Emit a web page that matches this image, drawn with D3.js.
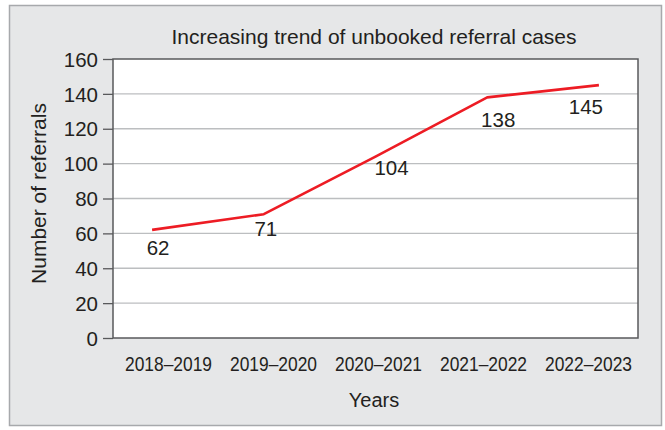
<!DOCTYPE html>
<html lang="en">
<head>
  <meta charset="UTF-8" />
  <title>Unbooked referral cases</title>
  <script src="https://d3js.org/d3.v7.min.js"></script>
  <style>
    body { margin: 0; background: #fff; font-family: 'Liberation Sans', Arial, sans-serif; }
    text { fill: #231f20; }
  </style>
</head>
<body>
  <svg></svg>

  <script>
    // chart data
    const years = ["2018\u20132019", "2019\u20132020", "2020\u20132021", "2021\u20132022", "2022\u20132023"];
    const referrals = [62, 71, 104, 138, 145];
    const yTicks = [0, 20, 40, 60, 80, 100, 120, 140, 160];

    // small nudges for the value labels (dx, dy from the point)
    const labelNudge = [[6, 25], [2, 22], [16, 18], [11, 30], [-13, 29]];

    const W = 665, H = 430;
    const plot = { left: 113, top: 59, right: 638, bottom: 338 };

    const svg = d3.select("svg").attr("width", W).attr("height", H);

    // outer panel
    svg.append("rect")
      .attr("x", 9.5).attr("y", 5.5)
      .attr("width", 652).attr("height", 420)
      .attr("fill", "#e6e7e8")
      .attr("stroke", "#a7a9ac")
      .attr("stroke-width", 1.5);

    const y = d3.scaleLinear().domain([0, 160]).range([plot.bottom, plot.top]);
    const xBand = d3.scaleBand().domain(years).range([plot.left + 3, plot.right + 3]);
    const xPt = d3.scalePoint().domain(years).range([plot.left, plot.right]).padding(0.35);

    svg.append("rect")
      .attr("x", plot.left).attr("y", plot.top)
      .attr("width", plot.right - plot.left).attr("height", plot.bottom - plot.top)
      .attr("fill", "#fff");

    // gridlines
    svg.append("g")
      .selectAll("line")
      .data(yTicks.filter(d => d > 0 && d < 160))
      .join("line")
      .attr("x1", plot.left).attr("x2", plot.right)
      .attr("y1", d => y(d)).attr("y2", d => y(d))
      .attr("stroke", "#bcbec0")
      .attr("stroke-width", 1.3);

    // y axis
    const yAxis = svg.append("g")
      .attr("transform", `translate(${plot.left},0)`)
      .call(d3.axisLeft(y).tickValues(yTicks).tickSize(10).tickPadding(5));
    yAxis.select(".domain").remove();
    yAxis.selectAll(".tick line").attr("stroke", "#58595b").attr("stroke-width", 1.3);
    yAxis.selectAll("text")
      .attr("font-family", "'Liberation Sans', Arial, sans-serif")
      .attr("font-size", 20.5)
      .attr("dy", "0.35em")
      .attr("fill", "#231f20");

    // x axis labels (no ticks), slightly condensed like the original
    const xAxis = svg.append("g")
      .attr("transform", `translate(0,${plot.bottom})`)
      .call(d3.axisBottom(xBand).tickSize(0).tickPadding(19));
    xAxis.select(".domain").remove();
    xAxis.selectAll("text")
      .attr("font-family", "'Liberation Sans', Arial, sans-serif")
      .attr("font-size", 20)
      .attr("transform", "scale(0.87,1)")
      .attr("fill", "#231f20");

    // plot frame
    svg.append("rect")
      .attr("x", plot.left).attr("y", plot.top)
      .attr("width", plot.right - plot.left).attr("height", plot.bottom - plot.top)
      .attr("fill", "none")
      .attr("stroke", "#58595b")
      .attr("stroke-width", 1.5);

    // the line
    const line = d3.line()
      .x((d, i) => xPt(years[i]))
      .y(d => y(d));

    svg.append("path")
      .datum(referrals)
      .attr("d", line)
      .attr("fill", "none")
      .attr("stroke", "#ed1c24")
      .attr("stroke-width", 2.6)
      .attr("stroke-linejoin", "round");

    svg.append("g")
      .selectAll("text")
      .data(referrals)
      .join("text")
      .attr("x", (d, i) => xPt(years[i]) + labelNudge[i][0])
      .attr("y", (d, i) => y(d) + labelNudge[i][1])
      .attr("text-anchor", "middle")
      .attr("font-size", 20.5)
      .text(d => d);

    // titles
    svg.append("text")
      .attr("x", 374).attr("y", 44)
      .attr("text-anchor", "middle")
      .attr("font-size", 21)
      .text("Increasing trend of unbooked referral cases");

    svg.append("text")
      .attr("x", 374).attr("y", 407)
      .attr("text-anchor", "middle")
      .attr("font-size", 20)
      .text("Years");

    svg.append("text")
      .attr("transform", `translate(46,${(plot.top + plot.bottom) / 2 - 5}) rotate(-90)`)
      .attr("text-anchor", "middle")
      .attr("font-size", 21)
      .text("Number of referrals");
  </script>
</body>
</html>
